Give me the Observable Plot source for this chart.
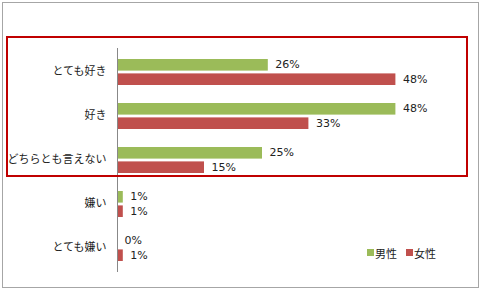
<!DOCTYPE html>
<html>
<head>
<meta charset="utf-8">
<script src="https://cdn.jsdelivr.net/npm/d3@7"></script>
<script src="https://cdn.jsdelivr.net/npm/@observablehq/plot@0.6"></script>
<style>
  html, body { margin: 0; padding: 0; background: #fff; }
  #wrap { position: relative; width: 481px; height: 290px; font-family: "DejaVu Sans", "Noto Sans CJK JP", sans-serif; }
  #outer { position: absolute; left: 2px; top: 2px; width: 475px; height: 284px; border: 1px solid #a6a6a6; box-sizing: content-box; }
  #highlight { position: absolute; left: 6px; top: 36px; width: 458px; height: 137px; border: 2px solid #c00000; }
  #chart { position: absolute; left: 0; top: 0; }
  #legend { position: absolute; left: 367px; top: 236px; }
  #legend span { margin-right: 9px !important; color: #222; font-size: 11px; font-family: "Noto Sans CJK JP", sans-serif; }
  #legend svg { margin-right: 1px !important; }
</style>
</head>
<body>
<div id="wrap">
  <div id="outer"></div>
  <div id="chart"></div>
  <div id="highlight"></div>
  <div id="legend"></div>
</div>
<script>
const categories = ["とても好き", "好き", "どちらとも言えない", "嫌い", "とても嫌い"];
const series = ["男性", "女性"];
const male = [26, 48, 25, 1, 0];
const female = [48, 33, 15, 1, 1];
const colors = ["#9bbb59", "#c0504d"];

const maleData = categories.map((c, i) => ({category: c, gender: series[0], value: male[i]}));
const femaleData = categories.map((c, i) => ({category: c, gender: series[1], value: female[i]}));

const chart = Plot.plot({
  width: 481,
  height: 290,
  marginTop: 48,
  marginBottom: 18,
  marginLeft: 117,
  marginRight: 16,
  style: {background: "transparent", fontFamily: "\"DejaVu Sans\", \"Noto Sans CJK JP\", sans-serif", fontSize: "11px", color: "#222"},
  x: {domain: [0, 60], axis: null},
  y: {domain: categories, paddingInner: 0.4, paddingOuter: 0.2, label: null, tickSize: 0, tickPadding: 11},
  marks: [
    Plot.barX(maleData, {x: "value", y: "category", fill: colors[0], insetBottom: 14.4}),
    Plot.barX(femaleData, {x: "value", y: "category", fill: colors[1], insetTop: 14.4}),
    Plot.text(maleData, {x: "value", y: "category", text: d => d.value + "%", dy: -7.6, dx: 7, textAnchor: "start", fill: "#222", fontSize: 11}),
    Plot.text(femaleData, {x: "value", y: "category", text: d => d.value + "%", dy: 6.8, dx: 7, textAnchor: "start", fill: "#222", fontSize: 11}),
    Plot.ruleX([0], {stroke: "#888"}),
    Plot.axisY({tickSize: 0, tickPadding: 11, label: null, fontSize: 11, fill: "#222", dy: -1.5})
  ]
});
document.getElementById("chart").appendChild(chart);

const legend = Plot.legend({
  color: {type: "ordinal", domain: series, range: colors},
  swatchSize: 7,
  style: {fontSize: "11px", background: "transparent"}
});
document.getElementById("legend").appendChild(legend);
</script>
</body>
</html>
